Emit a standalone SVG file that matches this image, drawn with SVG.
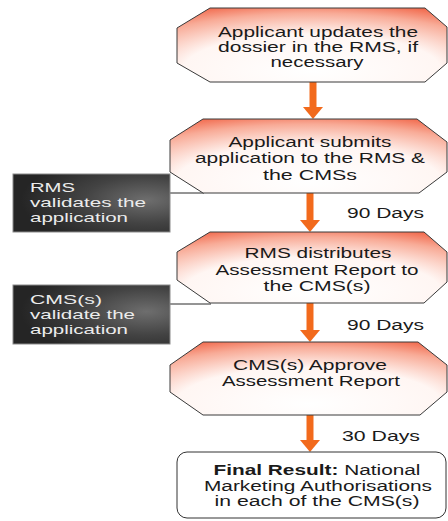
<svg xmlns="http://www.w3.org/2000/svg" width="448" height="521" viewBox="0 0 448 521">
<defs>
<radialGradient id="og" cx="0.5" cy="0.8" r="0.95" fx="0.5" fy="0.85">
<stop offset="0" stop-color="#ffffff"/>
<stop offset="0.5" stop-color="#fff6f3"/>
<stop offset="0.78" stop-color="#f8ab97"/>
<stop offset="1" stop-color="#ef5232"/>
</radialGradient>
<radialGradient id="gg" cx="0.85" cy="0.45" r="0.8">
<stop offset="0" stop-color="#6e6e6e"/>
<stop offset="0.5" stop-color="#434343"/>
<stop offset="1" stop-color="#252525"/>
</radialGradient>
<marker id="ah" viewBox="0 0 12 20" markerWidth="12" markerHeight="20" refX="0" refY="10" orient="auto" markerUnits="userSpaceOnUse">
<path d="M0,0 L12,10 L0,20 Z" fill="#f26a1c"/>
</marker>
</defs>
<style>
.oct{fill:url(#og);stroke:#3a3a3a;stroke-width:1}
.gbox{fill:url(#gg);stroke:#8a8a8a;stroke-width:1}
.t{font-family:"Liberation Sans",Arial,sans-serif;font-size:14px;fill:#1a1a1a;text-anchor:middle}
.w{font-family:"Liberation Sans",Arial,sans-serif;font-size:13px;fill:#ececec}
.d{font-family:"Liberation Sans",Arial,sans-serif;font-size:14px;fill:#1a1a1a}
.arr{stroke:#f26a1c;stroke-width:7;marker-end:url(#ah)}
.ln{stroke:#2a2a2a;stroke-width:1;fill:none}
</style>

<g id="connectors">
<line class="arr" x1="313" y1="82" x2="313" y2="107"/>
<line class="arr" x1="310" y1="193" x2="310" y2="220"/>
<line class="arr" x1="310" y1="303" x2="310" y2="330"/>
<line class="arr" x1="310" y1="415" x2="310" y2="440"/>
<line class="ln" x1="170" y1="193" x2="204" y2="193"/>
<line class="ln" x1="170" y1="304" x2="211" y2="304"/>
</g>

<g id="n1">
<polygon class="oct" points="210,8 425,8 447,27 447,63 425,82 210,82 177,63 177,28"/>
<text class="t" x="318" y="37" textLength="200" lengthAdjust="spacingAndGlyphs">Applicant updates the</text>
<text class="t" x="318" y="52" textLength="200" lengthAdjust="spacingAndGlyphs">dossier in the RMS, if</text>
<text class="t" x="317" y="67" textLength="93" lengthAdjust="spacingAndGlyphs">necessary</text>
</g>

<g id="n2">
<polygon class="oct" points="203,119 417,119 447,142 447,172 419,193 203,193 170,172 170,140"/>
<text class="t" x="310" y="147" textLength="163" lengthAdjust="spacingAndGlyphs">Applicant submits</text>
<text class="t" x="310" y="163" textLength="230" lengthAdjust="spacingAndGlyphs">application to the RMS &amp;</text>
<text class="t" x="310" y="180" textLength="94" lengthAdjust="spacingAndGlyphs">the CMSs</text>
</g>

<g id="g1">
<rect class="gbox" x="13" y="174" width="157" height="58"/>
<text class="w" x="30" y="192" textLength="45" lengthAdjust="spacingAndGlyphs">RMS</text>
<text class="w" x="30" y="207" textLength="116" lengthAdjust="spacingAndGlyphs">validates the</text>
<text class="w" x="30" y="222" textLength="98" lengthAdjust="spacingAndGlyphs">application</text>
</g>

<g id="d1">
<text class="d" x="347" y="218" textLength="77" lengthAdjust="spacingAndGlyphs">90 Days</text>
</g>

<g id="n3">
<polygon class="oct" points="210,232 424,232 447,252 447,282 424,303 210,303 177,280 177,252"/>
<text class="t" x="318" y="258" textLength="147" lengthAdjust="spacingAndGlyphs">RMS distributes</text>
<text class="t" x="317" y="275" textLength="203" lengthAdjust="spacingAndGlyphs">Assessment Report to</text>
<text class="t" x="317" y="291" textLength="107" lengthAdjust="spacingAndGlyphs">the CMS(s)</text>
</g>

<g id="g2">
<rect class="gbox" x="13" y="285" width="157" height="59"/>
<text class="w" x="30" y="304" textLength="72" lengthAdjust="spacingAndGlyphs">CMS(s)</text>
<text class="w" x="30" y="319" textLength="105" lengthAdjust="spacingAndGlyphs">validate the</text>
<text class="w" x="30" y="334" textLength="98" lengthAdjust="spacingAndGlyphs">application</text>
</g>

<g id="d2">
<text class="d" x="347" y="330" textLength="77" lengthAdjust="spacingAndGlyphs">90 Days</text>
</g>

<g id="n4">
<polygon class="oct" points="203,342 418,342 447,365 447,392 420,415 203,415 170,392 170,365"/>
<text class="t" x="310" y="370" textLength="154" lengthAdjust="spacingAndGlyphs">CMS(s) Approve</text>
<text class="t" x="311" y="386" textLength="178" lengthAdjust="spacingAndGlyphs">Assessment Report</text>
</g>

<g id="d3">
<text class="d" x="342" y="441" textLength="78" lengthAdjust="spacingAndGlyphs">30 Days</text>
</g>

<g id="n5">
<rect x="177" y="452" width="269" height="66" rx="10" ry="10" fill="#ffffff" stroke="#333333" stroke-width="1"/>
<text class="t" x="317" y="475" textLength="207" lengthAdjust="spacingAndGlyphs"><tspan font-weight="bold">Final Result:</tspan> National</text>
<text class="t" x="318" y="491" textLength="228" lengthAdjust="spacingAndGlyphs">Marketing Authorisations</text>
<text class="t" x="317" y="506" textLength="205" lengthAdjust="spacingAndGlyphs">in each of the CMS(s)</text>
</g>
</svg>
